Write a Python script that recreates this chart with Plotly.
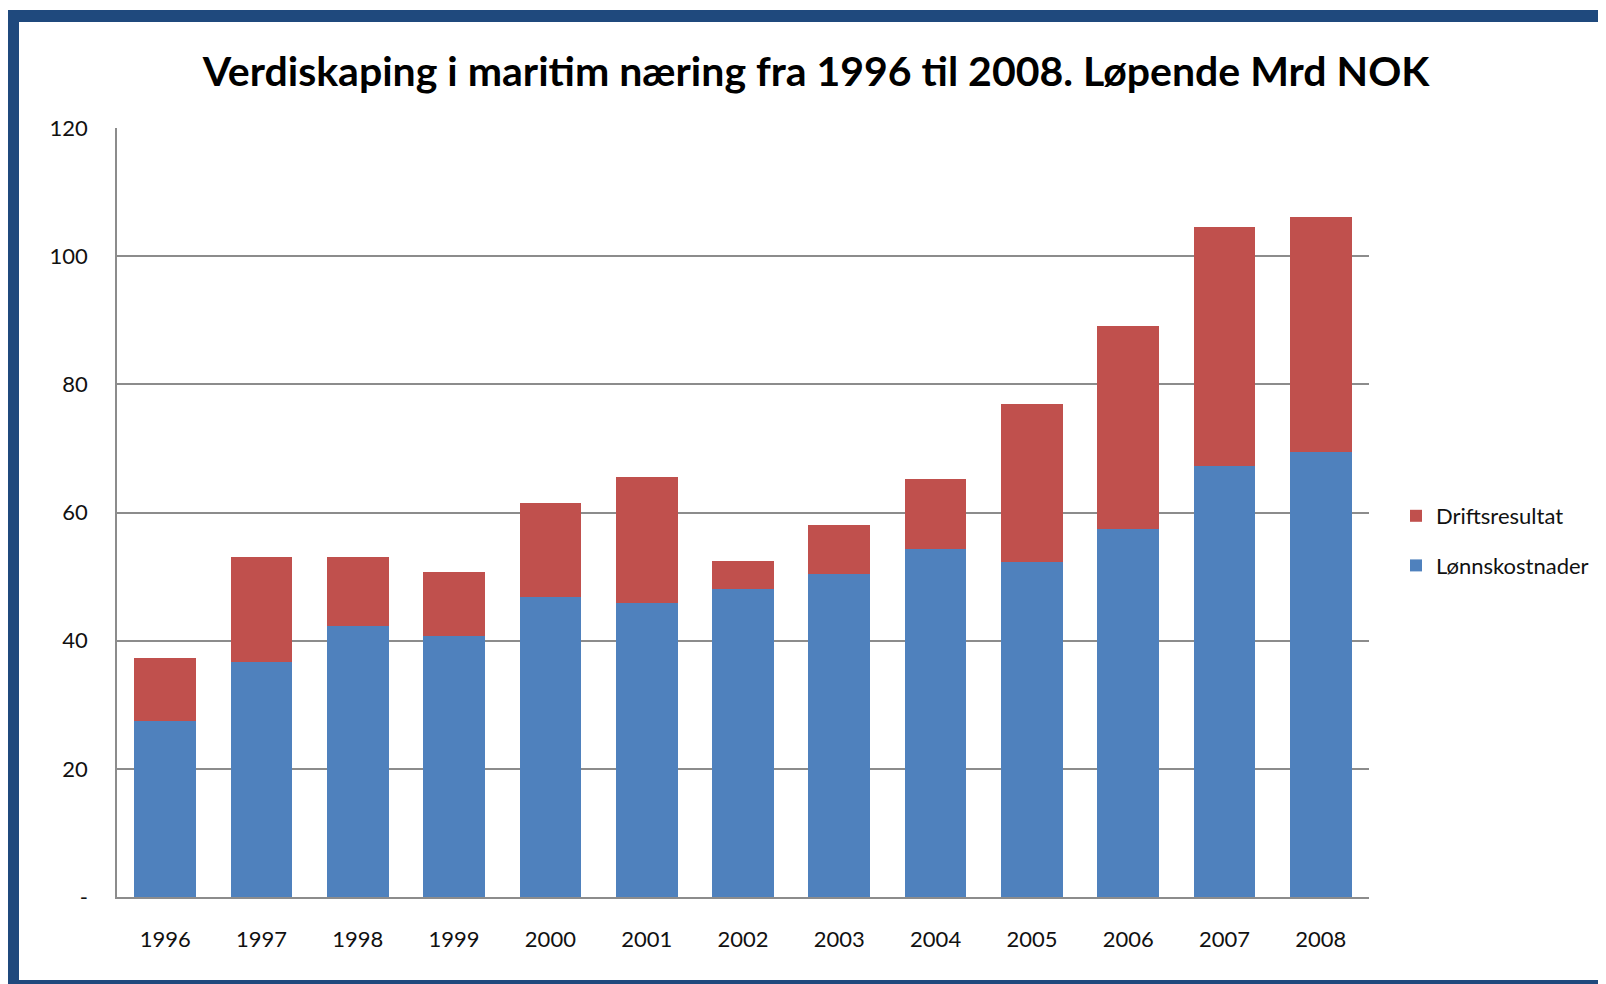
import plotly.graph_objects as go

years = ["1996", "1997", "1998", "1999", "2000", "2001", "2002",
         "2003", "2004", "2005", "2006", "2007", "2008"]
lonnskostnader = [27.4, 36.6, 42.3, 40.8, 46.8, 45.9, 48.1, 50.4, 54.3, 52.2, 57.4, 67.3, 69.4]
totalt = [37.3, 53.1, 53.1, 50.7, 61.5, 65.6, 52.5, 58.1, 65.3, 76.9, 89.1, 104.5, 106.1]
driftsresultat = [round(t - l, 1) for t, l in zip(totalt, lonnskostnader)]

y_tickvals = [0, 20, 40, 60, 80, 100, 120]
y_ticktext = ["-", "20", "40", "60", "80", "100", "120"]

title_text = "Verdiskaping i maritim næring fra 1996 til 2008. Løpende Mrd NOK"

OFF = 8  # page body margin
W, H = 1606 - OFF, 984 - OFF
L, R, T, B = 117 - OFF, 1369 - OFF, 128 - OFF, 897 - OFF

def px(x):
    return (x - OFF - L) / (R - L)

def py(y):
    return (B - (y - OFF)) / (B - T)

FONT = "Lato"
BLUE = "#4F81BD"
RED = "#C0504D"
FRAME = "#1F497D"
GRID = "#8C8C8C"

fig = go.Figure()
fig.add_trace(go.Bar(x=years, y=lonnskostnader, name="Lønnskostnader",
                     marker=dict(color=BLUE, line=dict(width=0)),
                     legendgroup="b", legendrank=2))
fig.add_trace(go.Bar(x=years, y=driftsresultat, name="Driftsresultat",
                     marker=dict(color=RED, line=dict(width=0)),
                     legendgroup="a", legendrank=1))

shapes = [
    dict(type="rect", xref="paper", yref="paper", x0=px(8), x1=px(19), y0=py(984), y1=py(10),
         fillcolor=FRAME, line=dict(width=0), layer="above"),
    dict(type="rect", xref="paper", yref="paper", x0=px(8), x1=px(1606), y0=py(22), y1=py(10),
         fillcolor=FRAME, line=dict(width=0), layer="above"),
    dict(type="rect", xref="paper", yref="paper", x0=px(8), x1=px(1606), y0=py(984), y1=py(980),
         fillcolor=FRAME, line=dict(width=0), layer="above"),
]

fig.update_layout(
    width=W, height=H,
    margin=dict(l=L, r=W - R, t=T, b=H - B, pad=0),
    paper_bgcolor="white", plot_bgcolor="white",
    barmode="stack", bargap=0.36,
    font=dict(family=FONT, size=22, color="#111111"),
    title=dict(text="<b>" + title_text + "</b>", x=(816 - OFF) / W, xanchor="center",
               y=1 - (72 - OFF) / H, yanchor="middle", yref="container",
               font=dict(family=FONT, size=41, color="black")),
    xaxis=dict(showline=True, linecolor=GRID, linewidth=1.5, showgrid=False,
               ticks="", ticklabelstandoff=22, tickfont=dict(size=22, color="#111111")),
    yaxis=dict(range=[0, 120], tickvals=y_tickvals, ticktext=y_ticktext,
               showline=True, linecolor=GRID, linewidth=1.5,
               showgrid=True, gridcolor=GRID, gridwidth=1.5,
               ticks="", ticklabelstandoff=23, tickfont=dict(size=22, color="#111111"),
               zeroline=False),
    legend=dict(x=px(1396), y=py(495), xanchor="left", yanchor="top",
                traceorder="grouped", tracegroupgap=18,
                font=dict(size=22, color="#111111"), itemwidth=30, bgcolor="rgba(0,0,0,0)"),
    shapes=shapes,
)

fig.write_html("out.html")
